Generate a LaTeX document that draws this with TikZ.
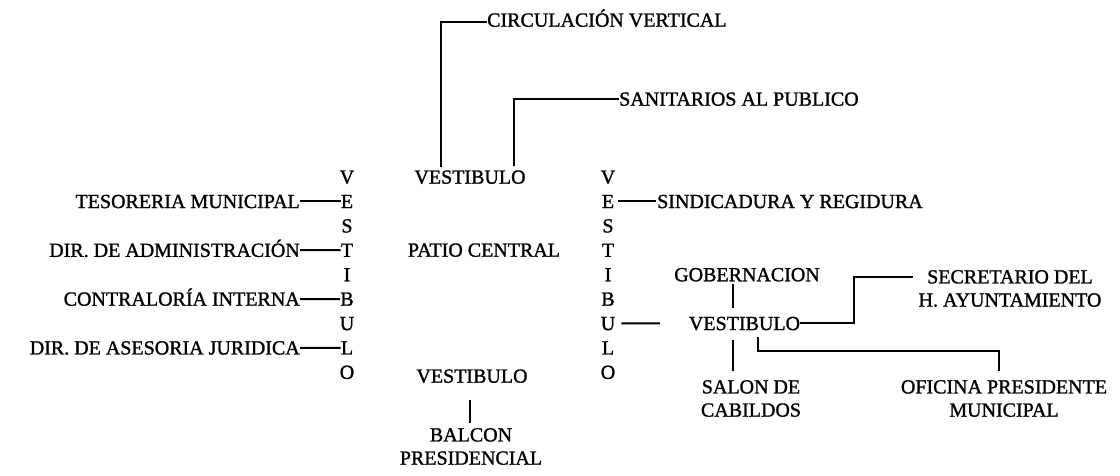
\documentclass[tikz,border=0pt]{standalone}
\usepackage{fontspec}
\setmainfont{Liberation Serif}[BoldFont={Liberation Serif}, BoldFeatures={FakeBold=1.3}]
\usetikzlibrary{calc}
\begin{document}
\begin{tikzpicture}[x=1pt,y=-1pt,
  lbl/.style={inner sep=0pt, font=\fontsize{20}{23.5}\selectfont\bfseries, text height=13.3pt, text depth=0pt},
  mlbl/.style={inner sep=0pt, font=\fontsize{20}{23.2}\selectfont\bfseries, align=center},
  conn/.style={line width=2pt}]
\useasboundingbox (0,0) rectangle (1120,475);

% vertical VESTIBULO columns
\foreach \l [count=\i, evaluate=\i as \yy using 152.6+24.4*\i] in {V,E,S,T,I,B,U,L,O} {
  \node[lbl] (L\i) at (347,\yy) {\l};
  \node[lbl] (R\i) at (608,\yy) {\l};
}

\node[lbl, anchor=west] (circ) at (487,20) {CIRCULACIÓN VERTICAL};
\node[lbl, anchor=west] (san) at (619,99) {SANITARIOS AL PUBLICO};
\node[lbl] (vt) at (470,177) {VESTIBULO};
\node[lbl] (patio) at (484,250) {PATIO CENTRAL};
\node[lbl] (vb) at (472,376) {VESTIBULO};
\node[mlbl] (bal) at (471,446.5) {BALCON\\PRESIDENCIAL};

\node[lbl, anchor=east] (tes) at (300,201.4) {TESORERIA MUNICIPAL};
\node[lbl, anchor=east] (adm) at (300,250.2) {DIR. DE ADMINISTRACIÓN};
\node[lbl, anchor=east] (con) at (300,299) {CONTRALORÍA INTERNA};
\node[lbl, anchor=east] (ase) at (300,347.8) {DIR. DE ASESORIA JURIDICA};

\node[lbl, anchor=west] (sind) at (657,201.4) {SINDICADURA Y REGIDURA};
\node[lbl] (gob) at (747,274.6) {GOBERNACION};
\node[lbl] (vr) at (744.5,323.4) {VESTIBULO};
\node[mlbl] (sec) at (1010,288.5) {SECRETARIO DEL\\H. AYUNTAMIENTO};
\node[mlbl] (ofi) at (1004,398.5) {OFICINA PRESIDENTE\\MUNICIPAL};
\node[mlbl] (sal) at (751,398.5) {SALON DE\\CABILDOS};

% connectors
\draw[conn] ($(vt.north)+(-29,-3)$) |- ($(circ.west)+(0,2)$);
\draw[conn] ($(vt.north)+(44,-4)$) |- (san.west);
\draw[conn] ($(vb.south)+(-2,17)$) -- ($(bal.north)+(-1,-5)$);

\draw[conn] (tes.east) -- (L2.west);
\draw[conn] (adm.east) -- (L4.west);
\draw[conn] (con.east) -- (L6.west);
\draw[conn] (ase.east) -- (L8.west);

\draw[conn] ($(R2.east)+(4,0)$) -- ($(sind.west)+(-1,0)$);
\draw[conn] ($(R7.east)+(6,0)$) -- ($(vr.west)+(-29,0)$);
\draw[conn] ($(gob.south)+(-14.5,3)$) -- ($(vr.north)+(-12,-9)$);
\draw[conn] (vr.east) -- ++(54,0) |- ($(sec.west)+(-5,-11.5)$);
\draw[conn] ($(vr.south)+(13.5,7)$) -- ++(0,14) -| ($(ofi.north)+(-5,-9)$);
\draw[conn] ($(vr.south)+(-12,10)$) -- ($(sal.north)+(-18.5,-9)$);
\end{tikzpicture}
\end{document}
